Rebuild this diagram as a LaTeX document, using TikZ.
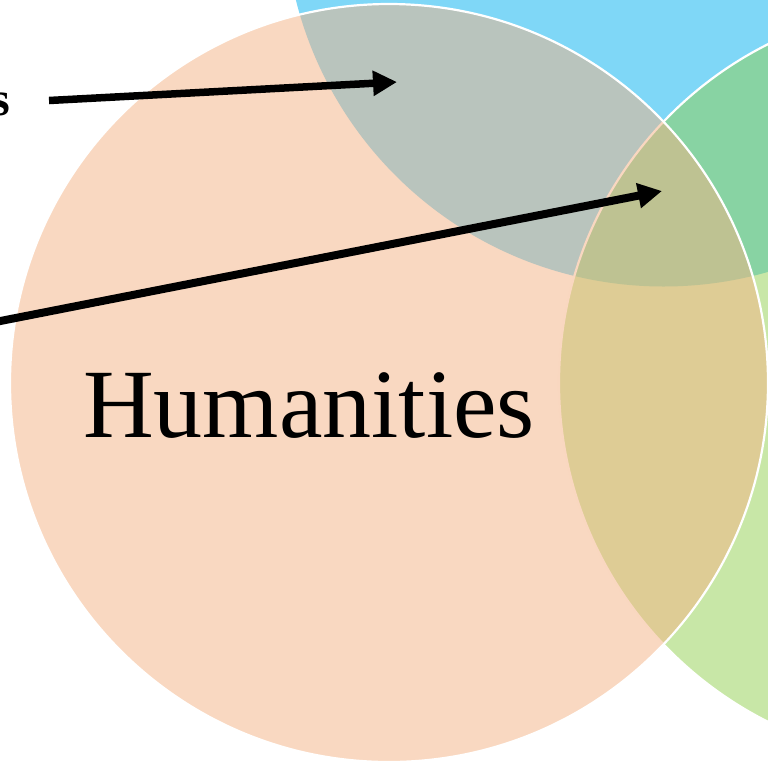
\documentclass[tikz,border=0pt]{standalone}
\usepackage{fontspec}
\setmainfont{Liberation Serif}
\usetikzlibrary{arrows.meta}
\definecolor{blueset}{HTML}{00B0F0}
\definecolor{greenset}{HTML}{92D050}
\definecolor{peachset}{HTML}{F4B183}
\tikzset{
  vennset/.style={fill opacity=0.5, draw opacity=1},
  pointer/.style={line width=7.5pt, -{Triangle[length=24pt,width=24pt]}},
}
\begin{document}
\begin{tikzpicture}[x=1pt,y=-1pt]
\useasboundingbox (0,0) rectangle (768,764);
\fill[vennset, fill=blueset] (663.5,-92.5) circle[radius=379pt];
\draw[vennset, fill=greenset, draw=white, line width=2.2pt] (938,383) circle[radius=379pt];
\draw[vennset, fill=peachset, draw=white, line width=2.2pt] (389,383) circle[radius=379pt];
\node[anchor=base west, inner sep=0pt, font=\fontsize{98}{100}\selectfont] (hum) at (83,437) {Humanities};
\node[anchor=base east, inner sep=0pt, font=\bfseries\fontsize{48}{50}\selectfont] (lab) at (10,115) {s};
\coordinate (t1) at (397,82);
\coordinate (s1) at (49,100.5);
\coordinate (t2) at (662,191);
\coordinate (s2) at (-20,325);
\draw[pointer] (s1) -- (t1);
\draw[pointer, line width=8pt] (s2) -- (t2);
\end{tikzpicture}
\end{document}
